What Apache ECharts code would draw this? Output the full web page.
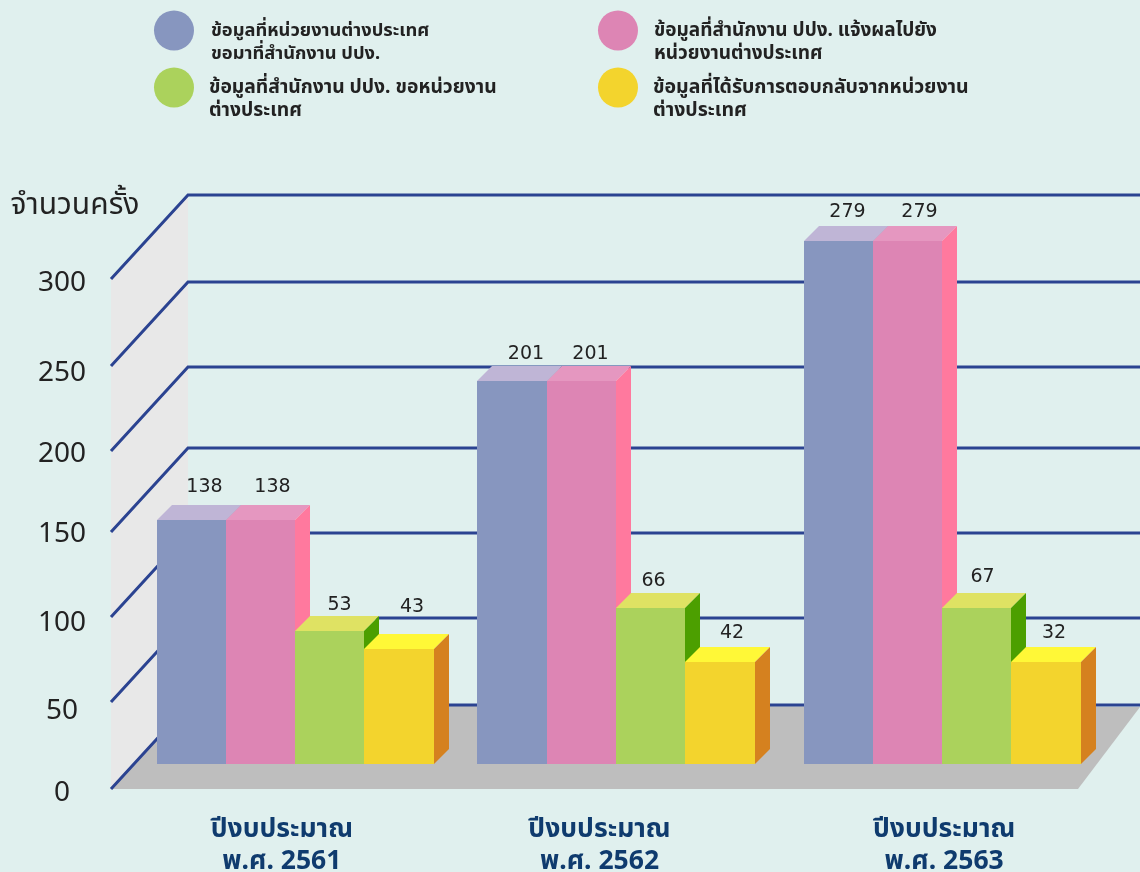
<!DOCTYPE html>
<html><head><meta charset="utf-8">
<style>html,body{margin:0;padding:0;background:#E0F0EE}#c{width:1140px;height:872px}</style>
<script src="https://cdn.jsdelivr.net/npm/echarts@6/dist/echarts.min.js"></script>
</head><body><div id="c"></div>
<script>
// ---- data ----
const categories = ['ปีงบประมาณ\nพ.ศ. 2561', 'ปีงบประมาณ\nพ.ศ. 2562', 'ปีงบประมาณ\nพ.ศ. 2563'];
const seriesNames = [
  'ข้อมูลที่หน่วยงานต่างประเทศ\nขอมาที่สำนักงาน ปปง.',
  'ข้อมูลที่สำนักงาน ปปง. แจ้งผลไปยัง\nหน่วยงานต่างประเทศ',
  'ข้อมูลที่สำนักงาน ปปง. ขอหน่วยงาน\nต่างประเทศ',
  'ข้อมูลที่ได้รับการตอบกลับจากหน่วยงาน\nต่างประเทศ'
];
// printed value labels
const foreignRequests = [138, 201, 279];
const officeReplies = [138, 201, 279];
const officeRequests = [53, 66, 67];
const foreignReplies = [43, 42, 32];
// top of each drawn bar as read against the value axis
const foreignRequestsDrawn = [158.2, 240.0, 322.4];
const officeRepliesDrawn = [158.2, 240.0, 322.4];
const officeRequestsDrawn = [92.9, 106.5, 106.5];
const foreignRepliesDrawn = [82.4, 74.7, 74.7];
// gridlines as read against the value axis (front-plane level)
const gridLevels = [0, 51.2, 101.2, 151.2, 198.8, 248.8, 300];
const tickLabelPositions = [-2.5, 45.7, 97.5, 149.9, 196.9, 244.6, 297.5];
const barFloorLevel = 14.7;

// ---- layout & style ----
const FONT = '"Noto Sans","Noto Sans Thai","DejaVu Sans",sans-serif';
const DEPTH = 15, WALL_DX = 77, WALL_DY = 84;
const WALL_X = 111, RIGHT_X = 1140, FLOOR_FRONT_RIGHT = 1078;
const clusterNudge = [0.3, -2.5, 0];
const faces = [
  {front:'#8796BF', top:'#BFB5D6', side:'#8796BF'},
  {front:'#DD85B4', top:'#E597C0', side:'#FF799E'},
  {front:'#ABD25C', top:'#DFE263', side:'#4C9F00'},
  {front:'#F3D42D', top:'#FFF837', side:'#D5811F'}
];
const labelNudge = [
  [[13,-33],[14,-27],[9,-29]],
  [[12,-33],[9,-27],[12,-29]],
  [[10,-26],[3,-27],[6,-31]],
  [[13,-42],[12,-29],[8,-29]]
];

function poly(points, fill){
  return {type:'polygon', shape:{points}, style:{fill}, silent:true};
}
function frameItem(params, api){
  if (params.dataIndex !== 0) return;
  const y = v => api.coord([0, v])[1];
  const kids = [];
  kids.push(poly([[WALL_X,y(300)],[WALL_X+WALL_DX,y(300)-WALL_DY],[WALL_X+WALL_DX,y(0)-WALL_DY],[WALL_X,y(0)]], '#E8E8E8'));
  kids.push(poly([[WALL_X,y(0)],[FLOOR_FRONT_RIGHT,y(0)],[RIGHT_X,y(0)-WALL_DY+2],[WALL_X+WALL_DX,y(0)-WALL_DY]], '#BEBEBE'));
  gridLevels.forEach(l => {
    kids.push({type:'polyline', silent:true,
      shape:{points:[[WALL_X,y(l)],[WALL_X+WALL_DX,y(l)-WALL_DY],[RIGHT_X,y(l)-WALL_DY]]},
      style:{stroke:'#2B4391', lineWidth:3, fill:null}});
  });
  return {type:'group', children:kids};
}
function barItem(s, printed){
  return function(params, api){
    const i = params.dataIndex;
    const band = api.size([1,0])[0];
    const w = band * 0.214;
    const c = api.coord([i, api.value(1)]);
    const yTop = Math.round(c[1]);
    const yBase = Math.round(api.coord([i, barFloorLevel])[1]);
    const x0 = Math.round(c[0] + clusterNudge[i] + (s-2)*w);
    const x1 = Math.round(c[0] + clusterNudge[i] + (s-1)*w);
    const f = faces[s], n = labelNudge[s][i];
    const mid = (x0+x1)/2;
    return {type:'group', children:[
      poly([[x0,yTop],[x0+DEPTH,yTop-DEPTH],[x1+DEPTH,yTop-DEPTH],[x1,yTop]], f.top),
      poly([[x1,yTop],[x1+DEPTH,yTop-DEPTH],[x1+DEPTH,yBase-DEPTH],[x1,yBase]], f.side),
      {type:'rect', shape:{x:x0,y:yTop,width:x1-x0,height:yBase-yTop}, style:{fill:f.front}, silent:true},
      {type:'text', z2:50, silent:true, style:{x:mid+n[0], y:yTop+n[1], text:String(printed[i]),
        fill:'#222', font:'19px "DejaVu Sans",sans-serif', align:'center', verticalAlign:'middle'}}
    ]};
  };
}
const drawn = [foreignRequestsDrawn, officeRepliesDrawn, officeRequestsDrawn, foreignRepliesDrawn];
const printed = [foreignRequests, officeReplies, officeRequests, foreignReplies];

const legendSpots = [[154,-4],[598,-4],[154,53],[598,53]];
const legendPad = [12,11,10,10];
const legendSize = [18.3,19,19.3,19.5];

const chart = echarts.init(document.getElementById('c'), null, {renderer:'canvas'});
chart.setOption({
  backgroundColor:'#E0F0EE',
  animation:false,
  legend: seriesNames.map((name,i)=>({
    data:[name], left:legendSpots[i][0], top:legendSpots[i][1], orient:'horizontal',
    icon:'circle', itemWidth:40, itemHeight:40, selectedMode:false, padding:0,
    formatter:n=>'\n'+n,
    textStyle:{fontFamily:FONT, fontSize:legendSize[i], fontWeight:'bold', color:'#222', lineHeight:23, padding:[0,0,0,legendPad[i]]}
  })),
  grid:{left:133, right:36, top:228, bottom:49, outerBoundsMode:'none'},
  xAxis:{type:'category', data:categories, boundaryGap:true,
    axisLine:{show:false}, axisTick:{show:false},
    axisLabel:{margin:-10, interval:0, color:'#0F3B6E',
      formatter:(v,i)=>v.split('\n').map(t=>`{c${i}|${t}}`).join('\n'),
      rich:{
        c0:{fontFamily:FONT,fontSize:26.5,fontWeight:'bold',color:'#0F3B6E',lineHeight:32,padding:[0,26,0,0]},
        c1:{fontFamily:FONT,fontSize:26.5,fontWeight:'bold',color:'#0F3B6E',lineHeight:32,padding:[0,38,0,0]},
        c2:{fontFamily:FONT,fontSize:26.5,fontWeight:'bold',color:'#0F3B6E',lineHeight:32,padding:[0,0,0,4]}
      }}
  },
  yAxis:{type:'value', min:-20, max:330, splitLine:{show:false}, axisLine:{show:false}, axisTick:{show:false},
    name:'จำนวนครั้ง', nameLocation:'end', nameGap:8,
    nameTextStyle:{fontFamily:FONT, fontSize:30, color:'#222', align:'center', padding:[0,116,0,0]},
    axisLabel:{customValues:tickLabelPositions, margin:71, align:'center',
      fontFamily:FONT, fontSize:28, color:'#222',
      formatter:v=>String(Math.round(v/50)*50)}
  },
  series:[
    {type:'custom', name:'frame', data:categories.map((c,i)=>[i,0]), renderItem:frameItem, z:1, clip:false, silent:true},
  ].concat(seriesNames.map((name,s)=>({
    type:'custom', name, z:2+s, clip:false, silent:true,
    itemStyle:{color:faces[s].front},
    encode:{x:0,y:1},
    data:drawn[s].map((v,i)=>[i,v]),
    renderItem:barItem(s, printed[s])
  })))
});
</script></body></html>
